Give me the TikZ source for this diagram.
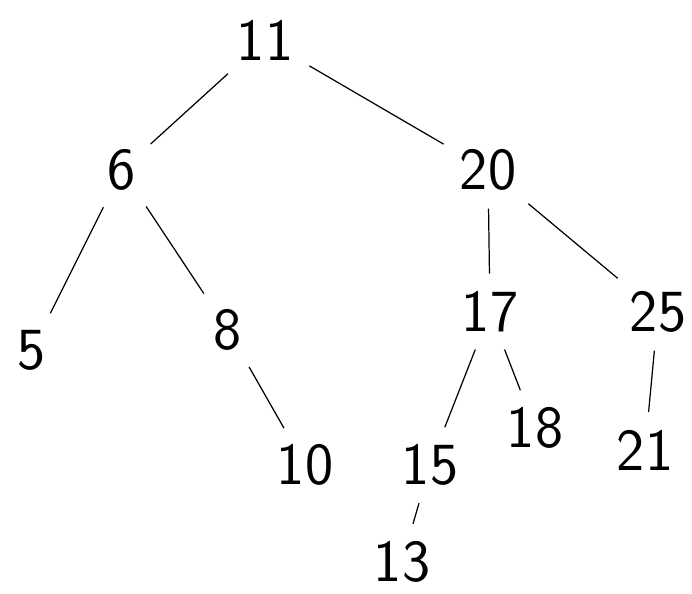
\documentclass[tikz,border=0pt]{standalone}
\usepackage{tikz}
\usetikzlibrary{calc}

\begin{document}
\begin{tikzpicture}[x=0.02cm, y=-0.02cm, line width=0.7pt,
		key/.style={font=\sffamily\fontsize{34}{34}\selectfont, inner sep=2pt},
		branch/.style={shorten >=8pt, shorten <=8pt}]
		\useasboundingbox (0,0) rectangle (692,593);
		% keys of the tree
		\node[key] (k11) at (265,40)  {11};
		\node[key] (k6)  at (122,170) {6};
		\node[key] (k20) at (488,170) {20};
		\node[key] (k5)  at (32,350)  {5};
		\node[key] (k8)  at (228,330) {8};
		\node[key] (k17) at (490,312) {17};
		\node[key] (k25) at (658,312) {25};
		\node[key] (k10) at (305,465) {10};
		\node[key] (k15) at (430,465) {15};
		\node[key] (k18) at (535,428) {18};
		\node[key] (k21) at (645,450) {21};
		\node[key] (k13) at (402,562) {13};
		% branches
		\draw[branch] (k11) -- (k6);
		\draw[branch] (k11) -- (k20);
		\draw[branch] (k6) -- (k5);
		\draw[branch] (k6) -- (k8);
		\draw[branch] (k20) -- (k17);
		\draw[branch] (k20) -- (k25);
		\draw[branch] (k8) -- (k10);
		\draw[branch] (k17) -- (k15);
		\draw[branch] (k17) -- (k18);
		\draw[branch] (k25) -- (k21);
		\draw[branch] (k15) -- (k13);
	\end{tikzpicture}
\end{document}
